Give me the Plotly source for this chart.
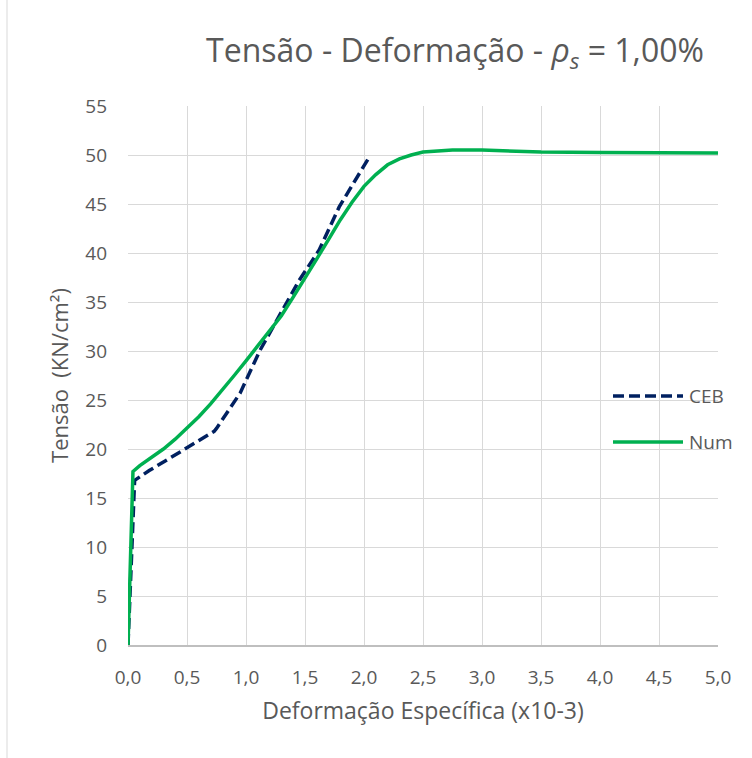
import plotly.graph_objects as go

ceb_x = [0.0, 0.056, 0.18, 0.41, 0.49, 0.73, 0.75, 0.95, 1.12, 1.34, 1.45, 1.62, 1.79, 2.05]
ceb_y = [0.0, 16.8, 17.8, 19.5, 20.1, 21.8, 22.1, 25.7, 30.1, 34.9, 37.2, 40.3, 44.7, 49.9]

num_x = [0.0, 0.042, 0.1, 0.2, 0.3, 0.4, 0.5, 0.6, 0.7, 0.8, 0.9, 1.0, 1.1, 1.2, 1.3, 1.4,
         1.5, 1.6, 1.7, 1.8, 1.9, 2.0, 2.1, 2.2, 2.3, 2.4, 2.5, 2.6, 2.75, 3.0, 3.25, 3.5,
         4.0, 4.5, 5.0]
num_y = [0.0, 17.7, 18.3, 19.1, 20.0, 21.0, 22.1, 23.3, 24.6, 26.0, 27.5, 29.0, 30.5, 32.0,
         33.6, 35.5, 37.4, 39.4, 41.4, 43.4, 45.2, 46.8, 48.0, 49.0, 49.6, 50.0, 50.3, 50.4,
         50.5, 50.5, 50.4, 50.3, 50.25, 50.2, 50.2]

x_ticks = [0, 0.5, 1, 1.5, 2, 2.5, 3, 3.5, 4, 4.5, 5]
y_ticks = [0, 5, 10, 15, 20, 25, 30, 35, 40, 45, 50, 55]
legend_names = ["CEB", "Num"]

FONT = "Open Sans"
GREY = "#595959"
CEB_COLOR = "#002060"
NUM_COLOR = "#00b050"
CEB_DASH = "11px,5px"

fig = go.Figure()
fig.add_trace(go.Scatter(x=ceb_x, y=ceb_y, mode="lines", name=legend_names[0],
                         line=dict(color=CEB_COLOR, width=3.5, dash=CEB_DASH)))
fig.add_trace(go.Scatter(x=num_x, y=num_y, mode="lines", name=legend_names[1],
                         line=dict(color=NUM_COLOR, width=3.5)))

W, H = 752, 758
L, R, T, B = 128, 34, 106, 113
pw = W - L - R
ph = H - T - B


def px_x(p):
    return (p - L) / pw


def px_y(p):
    return (H - B - p) / ph


# legend drawn as decoration (long line samples like the original)
legend_rows = [(legend_names[0], CEB_COLOR, CEB_DASH, 396),
               (legend_names[1], NUM_COLOR, "solid", 442)]
shapes = [dict(type="line", xref="paper", yref="paper",
               x0=px_x(7), x1=px_x(7), y0=-2, y1=2,
               line=dict(color="#d9d9d9", width=1))]
annotations = []
for name, col, dash, yy in legend_rows:
    shapes.append(dict(type="line", xref="paper", yref="paper",
                       x0=px_x(613), x1=px_x(683), y0=px_y(yy), y1=px_y(yy),
                       line=dict(color=col, width=3.5, dash=dash)))
    annotations.append(dict(text=name, xref="paper", yref="paper",
                            x=px_x(687), y=px_y(yy), xanchor="left", yanchor="middle",
                            showarrow=False, font=dict(size=19, color=GREY, family=FONT)))

fig.update_layout(
    width=W, height=H,
    margin=dict(l=L, r=R, t=T, b=B),
    paper_bgcolor="white", plot_bgcolor="white",
    separators=",.",
    font=dict(family=FONT, color=GREY, size=19),
    title=dict(text="Tensão - Deformação - <i>ρ</i><sub><i>s</i></sub> = 1,00%",
               x=455 / W, xref="container", xanchor="center",
               y=1 - 51 / H, yanchor="middle", yref="container",
               font=dict(size=32, color=GREY, family=FONT)),
    showlegend=False,
    xaxis=dict(range=[0, 5], tickvals=x_ticks, tickformat=".1f",
               showgrid=True, gridcolor="#d9d9d9", gridwidth=1,
               showline=True, linecolor="#bfbfbf", linewidth=1.5, mirror=False,
               zeroline=False, ticks="", ticklabelstandoff=14,
               tickfont=dict(size=19, color=GREY),
               title=dict(text="Deformação Específica (x10-3)", font=dict(size=23, color=GREY),
                          standoff=14)),
    yaxis=dict(range=[0, 55], tickvals=y_ticks,
               showgrid=True, gridcolor="#d9d9d9", gridwidth=1,
               showline=False, zeroline=False, ticks="", ticklabelstandoff=20,
               tickfont=dict(size=19, color=GREY),
               title=dict(text="Tensão\u00a0\u00a0(KN/cm²)", font=dict(size=22, color=GREY),
                          standoff=10)),
    shapes=shapes,
    annotations=annotations,
)

fig.write_html("out.html")
